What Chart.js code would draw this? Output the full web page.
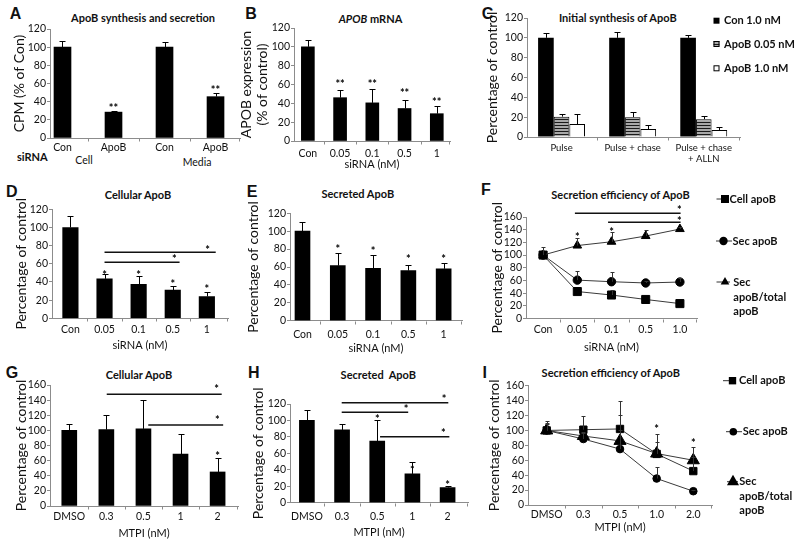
<!DOCTYPE html>
<html>
<head>
<meta charset="utf-8">
<title>ApoB figure</title>
<script src="https://cdn.jsdelivr.net/npm/chart.js@4.4.1/dist/chart.umd.min.js"></script>
<style>
  body { margin: 0; width: 800px; height: 546px; background: #fff; position: relative; overflow: hidden; font-family: Lato, sans-serif; color: #111; }
  canvas { position: absolute; }
  .lt { position: absolute; font: bold 16px "Liberation Sans", sans-serif; transform: translate(-50%, -50%); line-height: 1; }
  .tt { position: absolute; font-weight: bold; font-size: 11px; transform: translate(-50%, -50%); line-height: 1; white-space: nowrap; }
  .sm { position: absolute; font-size: 10.5px; transform: translate(-50%, -50%); line-height: 1; white-space: nowrap; color: #111; }
</style>
</head>
<body>
<div class="lt" style="left:15.5px;top:14px">A</div>
<div class="lt" style="left:251px;top:13.5px">B</div>
<div class="lt" style="left:487.5px;top:13.5px">C</div>
<div class="lt" style="left:11.7px;top:192px">D</div>
<div class="lt" style="left:252px;top:192px">E</div>
<div class="lt" style="left:486px;top:190.3px">F</div>
<div class="lt" style="left:12px;top:373.3px">G</div>
<div class="lt" style="left:253.8px;top:373.3px">H</div>
<div class="lt" style="left:484.7px;top:372.7px">I</div>

<div class="tt" style="left:143px;top:17px">ApoB synthesis and secretion</div>
<div class="tt" style="left:370.5px;top:17.5px"><i>APOB</i> mRNA</div>
<div class="tt" style="left:617.8px;top:17px">Initial synthesis of ApoB</div>
<div class="tt" style="left:138px;top:194.3px">Cellular ApoB</div>
<div class="tt" style="left:357.8px;top:193.3px">Secreted ApoB</div>
<div class="tt" style="left:620.5px;top:194px">Secretion efficiency of ApoB</div>
<div class="tt" style="left:139px;top:374px">Cellular ApoB</div>
<div class="tt" style="left:378.3px;top:374px">Secreted&nbsp; ApoB</div>
<div class="tt" style="left:610.8px;top:372.3px">Secretion efficiency of ApoB</div>

<div class="sm" style="left:17px;top:156px;transform:translate(0,-50%);font-weight:bold;font-size:11px">siRNA</div>
<div class="sm" style="left:84px;top:160px">Cell</div>
<div class="sm" style="left:197px;top:162px">Media</div>

<script>
// ---- A: ApoB synthesis and secretion
const catsA = ['Con', 'ApoB', 'Con', 'ApoB'];
const cpmA = [100, 28.5, 100, 45.5];
const errA = [7, 1.5, 6, 4.5];
const starsA = ['', '**', '', '**'];
const starYA = [null, 36, null, 56];

// ---- B: APOB mRNA
const siRNA = ['Con', '0.05', '0.1', '0.5', '1'];
const mrnaB = [100, 46, 40.5, 34.5, 29];
const errB = [7, 8, 14.5, 9, 8];
const starsB = ['', '**', '**', '**', '**'];
const starYB = [null, 63, 63, 53.5, 44.5];

// ---- C: initial synthesis
const stagesC = ['Pulse', 'Pulse + chase', ['Pulse + chase', '+ ALLN']];
const seriesC = ['Con 1.0 nM', 'ApoB 0.05 nM', 'ApoB 1.0 nM'];
const con1C = [100, 100, 100];
const errCon1C = [4.5, 6, 3];
const apo005C = [20.5, 20, 18];
const errApo005C = [2.5, 5, 3.5];
const apo1C = [13, 8, 7];
const errApo1C = [10, 4, 3.5];

// ---- D: cellular ApoB (siRNA)
const cellD = [100, 43.5, 37.5, 31, 24];
const errD = [12.5, 5, 9.5, 5, 5];
const starsD = ['', '*', '*', '*', '*'];
const starYD = [null, 50.5, 50.5, 41, 35];
// from, to, level, star x, star level
const sigD = [[1, 3.2, 61.7, 3.05, 68], [1, 4.26, 72.7, 4.02, 78]];

// ---- E: secreted ApoB (siRNA)
const secE = [100, 61.5, 58.5, 56, 58];
const errE = [10, 14, 15, 6.5, 7];
const starYE = [null, 83.5, 81, 71.5, 71.5];

// ---- F: secretion efficiency (siRNA)
const siRNAF = ['Con', '0.05', '0.1', '0.5', '1.0'];
const cellF = [100, 42.5, 37, 30, 23.5];
const secF = [100, 60.5, 58, 56, 57.5];
const ratioF = [100, 115, 121, 130, 141];
const errCellF = [0, 0, 8, 0, 0];
const errSecF = [0, 14, 15, 3, 6];
const errRatioF = [12, 12, 15, 9, 3];
const starYF = [null, 131.7, 141, null, null];
const sigF = [[0.93, 4.02, 166, 3.98, 175], [1.9, 4.02, 151.7, 3.98, 158]];
const legendTxt = [['Cell apoB'], ['Sec apoB'], ['Sec', 'apoB/total', 'apoB']];

// ---- G, H: MTPI
const mtpi = ['DMSO', '0.3', '0.5', '1', '2'];
const cellG = [100, 101, 102, 68.5, 45];
const errG = [8.5, 19, 38, 26.5, 18.5];
const starYG = [null, null, null, null, 69.7];
const sigG = [[1.01, 4.11, 147.7, 3.97, 158.7], [2.13, 4.15, 107, 3.99, 116.8]];
const secH = [100, 88.5, 75, 35, 18.5];
const errH = [13, 7.5, 25, 15, 1.5];
const starYH = [null, null, 105.4, 43, 24.3];
const sigH = [[0.99, 4.02, 121.6, 3.9, 129.7], [0.99, 2.88, 109.9, 2.82, 117.6], [2.08, 4.05, 80.3, 3.88, 87.5]];

// ---- I: secretion efficiency (MTPI)
const mtpiI = ['DMSO', '0.3', '0.5', '1.0', '2.0'];
const cellI = [100, 101, 102, 68.5, 45.5];
const secI = [100, 88.5, 75, 35.5, 18.5];
const ratioI = [100, 92.5, 86, 69, 60];
const errCellI = [8.5, 19, 38, 26.5, 18.5];
const errSecI = [13, 7.5, 25, 15, 1.5];
const errRatioI = [10, 5, 35, 16, 18];
const starYI = [null, null, null, 106, 86];

Chart.defaults.font.family = 'Lato, sans-serif';
Chart.defaults.color = '#111';

const pts = vals => vals.map((y, i) => ({ x: i, y: y }));

const hatch = (function () {
  const c = document.createElement('canvas');
  c.width = 4; c.height = 3;
  const g = c.getContext('2d');
  g.fillStyle = '#a8a8a8'; g.fillRect(0, 0, 4, 3);
  g.fillStyle = '#1a1a1a'; g.fillRect(0, 0, 4, 1);
  return g.createPattern(c, 'repeat');
})();

function drawMark(ctx, style, x, y, r) {
  ctx.beginPath();
  if (style === 'rect') {
    const s = Math.SQRT1_2 * r;
    ctx.rect(x - s, y - s, 2 * s, 2 * s);
  } else if (style === 'triangle') {
    ctx.moveTo(x, y - r);
    ctx.lineTo(x + 0.866 * r, y + 0.5 * r);
    ctx.lineTo(x - 0.866 * r, y + 0.5 * r);
    ctx.closePath();
  } else {
    ctx.arc(x, y, r, 0, Math.PI * 2);
  }
  ctx.fill();
}

// error bars, stars, brackets, category ticks and legends
const marks = {
  id: 'marks',
  afterDatasetsDraw(chart, args, o) {
    const ctx = chart.ctx, xs = chart.scales.x, ys = chart.scales.y;
    ctx.save();
    chart.data.datasets.forEach((ds, i) => {
      if (!ds.errorBars) return;
      chart.getDatasetMeta(i).data.forEach((el, j) => {
        const e = ds.errorBars[j];
        if (!e) return;
        const x = Math.round(el.x) + 0.5;
        const y1 = Math.round(ys.getPixelForValue(ds.data[j].y + e)) + 0.5;
        ctx.strokeStyle = o.errColor || '#000';
        ctx.lineWidth = 1;
        ctx.beginPath();
        ctx.moveTo(x, el.y);
        ctx.lineTo(x, y1);
        ctx.moveTo(x - o.cap, y1);
        ctx.lineTo(x + o.cap, y1);
        ctx.stroke();
      });
    });

    const yb = Math.round(chart.chartArea.bottom) + 0.5;
    ctx.strokeStyle = '#8c8c8c';
    ctx.lineWidth = 1;
    ctx.beginPath();
    for (let k = 0; k < o.n - 1; k++) {
      const x = Math.round(xs.getPixelForValue(k + 0.5)) + 0.5;
      ctx.moveTo(x, yb); ctx.lineTo(x, yb + 3);
    }
    const xr = Math.round(xs.getPixelForValue(o.xmax)) - 0.5;
    ctx.moveTo(xr, yb); ctx.lineTo(xr, yb + 3);
    ctx.stroke();

    ctx.fillStyle = '#000';
    ctx.font = 'bold 11px Lato';
    ctx.textAlign = 'center';
    ctx.textBaseline = 'middle';
    if (o.stars) {
      o.stars.y.forEach((v, j) => {
        if (v == null) return;
        const t = Array.isArray(o.stars.text) ? o.stars.text[j] : o.stars.text;
        ctx.fillText(t, xs.getPixelForValue(j), ys.getPixelForValue(v) + 3);
      });
    }
    (o.sig || []).forEach(b => {
      const y = ys.getPixelForValue(b[2]);
      ctx.strokeStyle = '#111';
      ctx.lineWidth = 1.5;
      ctx.beginPath();
      ctx.moveTo(xs.getPixelForValue(b[0]), y);
      ctx.lineTo(xs.getPixelForValue(b[1]), y);
      ctx.stroke();
      ctx.fillText('*', xs.getPixelForValue(b[3]), ys.getPixelForValue(b[4]) + 3);
    });
    ctx.restore();
  },
  afterDraw(chart, args, o) {
    if (!o.legend) return;
    const ctx = chart.ctx;
    ctx.save();
    o.legend.forEach(it => {
      const ds = chart.data.datasets[it.ds];
      const y = it.y[0] - o.oy;
      if (it.line) {
        ctx.strokeStyle = '#333';
        ctx.lineWidth = 1;
        ctx.beginPath();
        ctx.moveTo(it.line[0] - o.ox, y);
        ctx.lineTo(it.line[1] - o.ox, y);
        ctx.stroke();
      }
      if (it.box) {
        ctx.fillStyle = ds.backgroundColor;
        ctx.fillRect(it.mx - o.ox - 3, y - 3, 6, 6);
        if (ds.borderWidth) {
          ctx.strokeStyle = '#000';
          ctx.lineWidth = 1;
          ctx.strokeRect(it.mx - o.ox - 3 + 0.5, y - 3 + 0.5, 5, 5);
        }
      } else {
        ctx.fillStyle = '#000';
        drawMark(ctx, ds.pointStyle, it.mx - o.ox, y, ds.pointRadius);
      }
      ctx.fillStyle = '#111';
      ctx.font = 'bold 11px Lato';
      ctx.textAlign = 'left';
      ctx.textBaseline = 'middle';
      it.text.forEach((t, k) => ctx.fillText(t, it.tx - o.ox, it.y[k] - o.oy));
    });
    ctx.restore();
  }
};

function panel(p) {
  const yFont = 14, yLH = 1.1;
  const tickSize = p.tickSize || 10.5;
  const xFont = 11;
  const cx = Math.round(p.ytc - yFont * yLH / 2 - 4);
  const top = Math.round(p.T - (p.pt || 16));
  const right = p.wide ? 800 : Math.round(p.R + 6);
  const bottom = Math.round(p.xtc ? p.xtc + xFont * 1.2 / 2 + 4 : p.bottom);
  const cv = document.createElement('canvas');
  cv.width = right - cx;
  cv.height = bottom - top;
  cv.style.left = cx + 'px';
  cv.style.top = top + 'px';
  document.body.appendChild(cv);
  const mo = Object.assign({ ox: cx, oy: top, n: p.cats.length, xmax: p.xmax, cap: 3 }, p.marks);
  return new Chart(cv, {
    type: p.type,
    data: { datasets: p.datasets },
    options: {
      responsive: false,
      animation: false,
      events: [],
      layout: { autoPadding: false, padding: { left: 0, top: p.T - top, right: right - p.R, bottom: 0 } },
      plugins: { legend: { display: false }, tooltip: { enabled: false }, marks: mo },
      scales: {
        x: {
          type: 'linear', min: p.xmin, max: p.xmax, offset: false,
          afterBuildTicks: s => { s.ticks = p.cats.map((c, i) => ({ value: i })); },
          afterFit: s => { s.height = bottom - p.B; },
          ticks: { autoSkip: false, maxRotation: 0, padding: p.xlc - p.B - tickSize * 0.6, color: '#111', font: { size: tickSize }, callback: v => p.cats[v] },
          grid: { drawOnChartArea: false, drawTicks: false, offset: false },
          border: { color: '#8c8c8c' },
          title: { display: !!p.xTitle, text: p.xTitle || '', color: '#111', font: { size: xFont }, padding: { top: 0, bottom: 4 } }
        },
        y: {
          min: 0, max: p.ymax,
          afterFit: s => { s.width = p.L - cx; },
          ticks: { stepSize: 20, autoSkip: false, padding: 1, color: '#111', font: { size: 10.5 } },
          grid: { drawOnChartArea: false, tickLength: 3, color: '#8c8c8c' },
          border: { color: '#8c8c8c' },
          title: { display: true, text: p.yTitle, color: '#111', font: { size: yFont, lineHeight: yLH }, padding: { top: 4, bottom: 4 } }
        }
      }
    },
    plugins: [marks]
  });
}

const bar = (vals, err, w) => ({ data: pts(vals), backgroundColor: '#000', barThickness: w, errorBars: err });

function lineSets(cell, sec, ratio, eCell, eSec, eRatio, sizes) {
  const base = { borderColor: '#3a3a3a', borderWidth: 1, pointBackgroundColor: '#000', pointBorderColor: '#000', pointBorderWidth: 1 };
  return [
    Object.assign({ label: 'Cell apoB', data: pts(cell), pointStyle: 'rect', pointRadius: sizes[0], errorBars: eCell, order: 2 }, base),
    Object.assign({ label: 'Sec apoB', data: pts(sec), pointStyle: 'circle', pointRadius: sizes[1], errorBars: eSec, order: 1 }, base),
    Object.assign({ label: 'Sec apoB/total apoB', data: pts(ratio), pointStyle: 'triangle', pointRadius: sizes[2], errorBars: eRatio, order: 0 }, base)
  ];
}

// A
panel({ type: 'bar', cats: catsA, ytc: 20, L: 50, T: 29, R: 240, B: 138, bottom: 168, xlc: 148,
  xmin: -0.245, xmax: 3.48, ymax: 120, yTitle: 'CPM (% of Con)',
  datasets: [bar(cpmA, errA, 17)],
  marks: { stars: { text: starsA, y: starYA } } });

// B
panel({ type: 'bar', cats: siRNA, ytc: 246.7, L: 294, T: 28, R: 450, B: 141, xtc: 164, xlc: 153.3,
  xmin: -0.43, xmax: 4.41, ymax: 120, yTitle: ['APOB expression', '(% of control)'], xTitle: 'siRNA (nM)',
  datasets: [bar(mrnaB, errB, 13)],
  marks: { stars: { text: starsB, y: starYB } } });

// C
panel({ type: 'bar', cats: stagesC, ytc: 493, L: 527, T: 18, R: 740, B: 137, bottom: 176, xlc: 148, tickSize: 9.5,
  xmin: -0.486, xmax: 2.51, ymax: 120, yTitle: 'Percentage of control', wide: true,
  datasets: [
    { label: seriesC[0], data: pts(con1C), backgroundColor: '#000', borderColor: '#000', borderWidth: 0, categoryPercentage: 0.66, barPercentage: 1, errorBars: errCon1C },
    { label: seriesC[1], data: pts(apo005C), backgroundColor: hatch, borderColor: '#000', borderWidth: 1, categoryPercentage: 0.66, barPercentage: 1, errorBars: errApo005C },
    { label: seriesC[2], data: pts(apo1C), backgroundColor: '#fff', borderColor: '#000', borderWidth: 1, categoryPercentage: 0.66, barPercentage: 1, errorBars: errApo1C }
  ],
  marks: { legend: [
    { ds: 0, box: true, mx: 716.5, tx: 724, y: [20.7], text: [seriesC[0]] },
    { ds: 1, box: true, mx: 716.5, tx: 724, y: [44], text: [seriesC[1]] },
    { ds: 2, box: true, mx: 716.5, tx: 724, y: [68.3], text: [seriesC[2]] }
  ] } });

// D
panel({ type: 'bar', cats: siRNA, ytc: 21.7, L: 52, T: 209.3, R: 228, B: 318.3, xtc: 345, xlc: 330,
  xmin: -0.54, xmax: 4.62, ymax: 120, yTitle: 'Percentage of control', xTitle: 'siRNA (nM)',
  datasets: [bar(cellD, errD, 15.5)],
  marks: { stars: { text: starsD, y: starYD }, sig: sigD } });

// E
panel({ type: 'bar', cats: siRNA, ytc: 254, L: 290, T: 213.3, R: 462, B: 320.7, xtc: 348, xlc: 335,
  xmin: -0.354, xmax: 4.52, ymax: 120, yTitle: 'Percentage of control', xTitle: 'siRNA (nM)',
  datasets: [bar(secE, errE, 15)],
  marks: { stars: { text: '*', y: starYE } } });

// F
panel({ type: 'line', cats: siRNAF, ytc: 498, L: 526, T: 217, R: 697, B: 318.5, xtc: 347, xlc: 330, pt: 30,
  xmin: -0.5, xmax: 4.5, ymax: 160, yTitle: 'Percentage of control', xTitle: 'siRNA (nM)', wide: true,
  datasets: lineSets(cellF, secF, ratioF, errCellF, errSecF, errRatioF, [5.7, 4.2, 5]),
  marks: { cap: 2, errColor: '#333', stars: { text: '*', y: starYF }, sig: sigF, legend: [
    { ds: 0, mx: 725, line: [716.5, 729], tx: 729.5, y: [199], text: legendTxt[0] },
    { ds: 1, mx: 723.5, line: [716, 732], tx: 732.5, y: [241], text: legendTxt[1] },
    { ds: 2, mx: 725, line: [716.5, 730], tx: 733.3, y: [282, 297, 311], text: legendTxt[2] }
  ] } });

// G
panel({ type: 'bar', cats: mtpi, ytc: 22, L: 50, T: 385, R: 238, B: 506, xtc: 533, xlc: 517,
  xmin: -0.52, xmax: 4.55, ymax: 160, yTitle: 'Percentage of control', xTitle: 'MTPI (nM)',
  datasets: [bar(cellG, errG, 15)],
  marks: { stars: { text: '*', y: starYG }, sig: sigG } });

// H
panel({ type: 'bar', cats: mtpi, ytc: 259, L: 290, T: 404, R: 468, B: 502.7, xtc: 532, xlc: 517,
  xmin: -0.48, xmax: 4.58, ymax: 120, yTitle: 'Percentage of control', xTitle: 'MTPI (nM)',
  datasets: [bar(secH, errH, 15)],
  marks: { stars: { text: '*', y: starYH }, sig: sigH } });

// I
panel({ type: 'line', cats: mtpiI, ytc: 495, L: 528, T: 385.7, R: 712, B: 505, xtc: 527, xlc: 515,
  xmin: -0.51, xmax: 4.51, ymax: 160, yTitle: 'Percentage of control', xTitle: 'MTPI (nM)', wide: true,
  datasets: lineSets(cellI, secI, ratioI, errCellI, errSecI, errRatioI, [5.2, 3.8, 7]),
  marks: { cap: 2, errColor: '#333', stars: { text: '*', y: starYI }, legend: [
    { ds: 0, mx: 732.5, line: [723, 735], tx: 739, y: [380.7], text: legendTxt[0] },
    { ds: 1, mx: 733.3, line: [726, 742], tx: 742.7, y: [431.7], text: legendTxt[1] },
    { ds: 2, mx: 733, line: [727, 738], tx: 739.3, y: [481.7, 496, 510], text: legendTxt[2] }
  ] } });
</script>
</body>
</html>
